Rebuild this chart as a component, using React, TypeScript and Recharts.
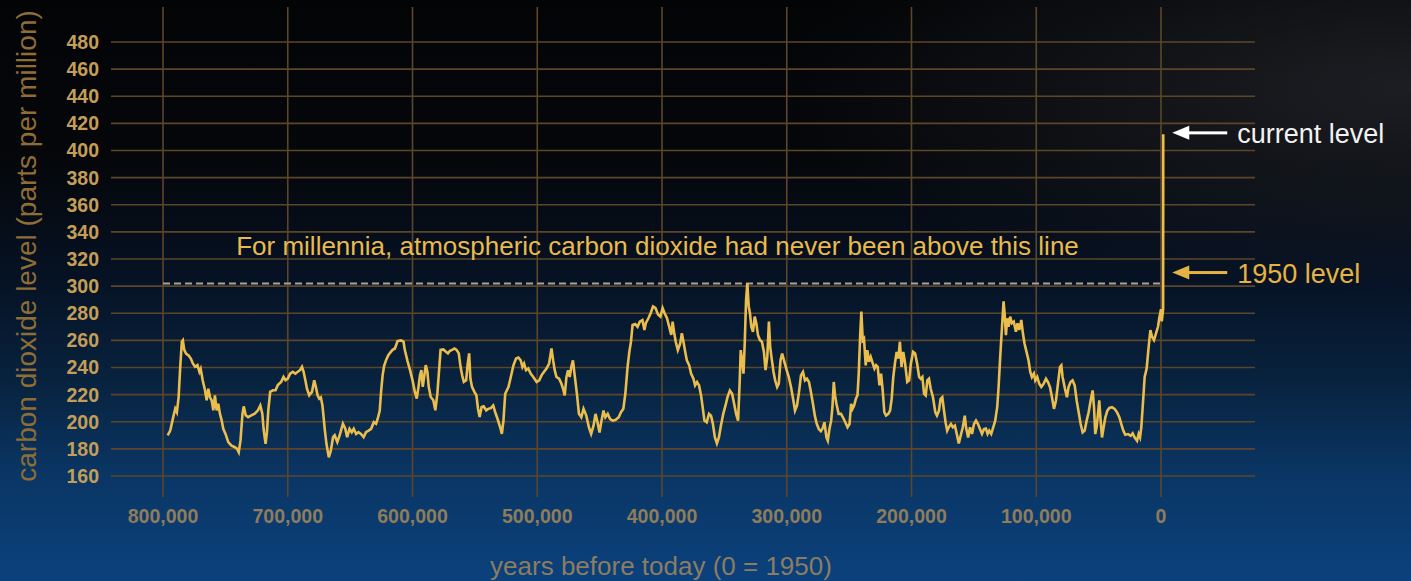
import React from 'react';
import {
  LineChart,
  Line,
  XAxis,
  YAxis,
  CartesianGrid,
  ReferenceLine,
  ReferenceDot,
  Label,
} from 'recharts';

const FONT = '"Liberation Sans", Arial, Helvetica, sans-serif';

const X_TICKS = [800000, 700000, 600000, 500000, 400000, 300000, 200000, 100000, 0];
const Y_TICKS = [160, 180, 200, 220, 240, 260, 280, 300, 320, 340, 360, 380, 400, 420, 440, 460, 480];
const X_DOMAIN: [number, number] = [-75350, 841700];
const Y_DOMAIN: [number, number] = [144.5, 505.8];

const PREINDUSTRIAL_MAX = 302;
const LEVEL_1950 = 310;
const LEVEL_CURRENT = 413;
const MODERN_YEAR = -1800;
const NOTE_YEAR = 403600;
const NOTE_PPM = 322.8;

const TITLE_NOTE = 'For millennia, atmospheric carbon dioxide had never been above this line';
const X_LABEL = 'years before today (0 = 1950)';
const Y_LABEL = 'carbon dioxide level (parts per million)';

// [years before 1950, ppm]
const record800to670: [number, number][] = [
  [796300, 190], [794200, 193.5], [791500, 204.7], [790200, 209.6], [788900, 207], [787500, 218],
  [786200, 240.5], [784900, 259], [784100, 260], [783000, 253], [781400, 250], [779600, 249],
  [777700, 246.6], [776100, 243], [774300, 240.5], [772400, 241.7], [770800, 236.8], [769800, 239],
  [768200, 230.6], [766300, 223], [765000, 215.8], [763700, 224.4], [762300, 218], [761000, 215.8],
  [759700, 208.4], [758400, 219.5], [757000, 208.4], [755700, 213.3], [754400, 206], [753000, 201],
  [751700, 194.8], [749900, 191], [747700, 185], [745100, 182.4], [742400, 181.2], [740600, 180],
  [739300, 177.5], [737900, 186], [736300, 206], [735300, 211.3], [733700, 204.7], [731800, 203.4],
  [729200, 204.7], [726500, 206], [723900, 208.4], [722000, 212], [720400, 206], [719400, 194.8],
  [717800, 183.7], [716700, 192.3], [715600, 208.4], [714100, 222], [711900, 223.2], [709800, 223.2],
  [708000, 227], [705300, 229.4], [703400, 233], [701800, 230.6], [700000, 231.8], [698100, 235.5],
  [696000, 236.8], [693900, 235.5], [692000, 236.8], [690200, 238], [688600, 240.5], [687300, 236.8],
  [685900, 230.6], [684600, 224.4], [682800, 219.5], [680600, 222], [678800, 230.6], [677500, 225.7],
  [676100, 219.5], [674800, 217], [673500, 218], [672200, 212],
];

const record670to540: [number, number][] = [
  [670300, 194], [669000, 183.7], [667100, 173.8], [665500, 178.7], [663700, 188.6], [662400, 190],
  [660300, 185], [658400, 190], [655800, 198.5], [653900, 194.8], [652400, 188.6], [650500, 194.8],
  [648700, 192.3], [647100, 194.8], [645200, 191], [643400, 192.3], [641300, 191], [639200, 188.6],
  [637300, 192.3], [635200, 193.5], [633200, 194.8], [631000, 199.7], [629200, 198.5], [627900, 202.2],
  [626300, 208], [625200, 222], [624000, 234], [622800, 241], [621200, 245.4], [619400, 249],
  [617800, 251], [616000, 253], [614100, 254], [612000, 259.5], [609300, 260], [607200, 259],
  [606200, 253], [604000, 244.7], [602000, 238], [600000, 230.6], [598100, 222], [596600, 217],
  [595200, 225.7], [594000, 234.3], [592900, 238], [591800, 225.7], [590700, 233], [589400, 241.7],
  [588100, 236.8], [587000, 225.7], [585400, 218.2], [583300, 215.8], [581700, 208.4], [580100, 220.7],
  [578500, 240.5], [577500, 253], [575300, 253.3], [573200, 251.6], [571600, 250.4], [570000, 252.3],
  [568200, 253], [566400, 254], [564700, 253], [562900, 250.4], [561500, 240.5], [560200, 234.3],
  [558900, 229.4], [557000, 230.6], [555700, 243], [554600, 250.4], [553600, 231.8], [552300, 225.7],
  [550400, 222], [548800, 219.5], [547500, 209.6], [546200, 203.4], [544600, 210.8], [543000, 211.3],
  [540900, 208.4], [539000, 209.6],
];

const record537to407: [number, number][] = [
  [537300, 210], [535300, 212], [533700, 207], [531800, 202], [529700, 195.9], [528400, 191],
  [527100, 200.8], [525700, 220.6], [523100, 225.5], [521200, 233], [519100, 241.6], [517000, 246.6],
  [515100, 247.3], [513300, 245.3], [511900, 240.4], [510600, 242.9], [509000, 238], [507200, 239.2],
  [505300, 235.5], [503200, 233], [500500, 229.3], [498400, 230.5], [496600, 234.2], [494700, 236.7],
  [492600, 239.2], [490500, 242.9], [488600, 254], [487300, 245.4], [486000, 238], [484600, 233],
  [482500, 231.7], [480600, 228], [479300, 224.3], [478000, 219.4], [476600, 233], [475300, 238],
  [474000, 233], [472700, 240.4], [471400, 245.3], [470000, 234.2], [468200, 220.6], [466600, 205.8],
  [464700, 203.3], [462900, 209.5], [460700, 204.5], [458600, 195.9], [456800, 191], [454900, 197.1],
  [453300, 205.8], [451700, 199.6], [450100, 192.1], [448500, 200.8], [446900, 208.2], [445400, 203.3],
  [443500, 205.8], [441600, 202], [439500, 200.8], [437400, 201.3], [434700, 203.3], [432900, 207],
  [431000, 209.5], [429400, 220.6], [427600, 240.4], [426200, 251.5], [424900, 259], [423600, 271.3],
  [421500, 272], [419600, 270], [417800, 273.8], [415700, 275], [414100, 267.6], [413000, 272.6],
  [410900, 276.3], [409100, 280], [407200, 285],
];

const record405to273: [number, number][] = [
  [405300, 284], [403200, 279], [401300, 277.5], [399500, 283.7], [397900, 280], [396000, 276.3],
  [394200, 270], [392600, 264], [391500, 273.8], [390200, 265.2], [389000, 259], [387300, 252.8],
  [385400, 257.7], [384100, 265.2], [382800, 259], [381400, 251.5], [380100, 245.3], [378200, 241.6],
  [376700, 235.5], [374800, 231.7], [373500, 226.8], [371900, 229.3], [370300, 226.8], [368700, 219.4],
  [367400, 210.7], [366000, 200.8], [364200, 199.6], [362300, 205.8], [360700, 204.5], [359200, 198.3],
  [357600, 188.4], [356000, 184], [354400, 188.4], [352800, 197], [350900, 205.8], [349100, 212],
  [347500, 218.1], [345600, 223], [343800, 220.6], [342200, 213.2], [340600, 205.8], [339000, 200.8],
  [337700, 230.5], [336900, 252.8], [335800, 245.3], [334700, 235.5], [333700, 257.7], [332600, 290],
  [331600, 302], [330500, 285], [329500, 280], [328400, 270], [327100, 266.3], [325700, 277.5],
  [324400, 272.6], [323100, 264], [321500, 260.2], [319900, 259], [318300, 251.5], [317000, 238],
  [315600, 247.8], [314300, 273.8], [313300, 255.2], [311900, 245.3], [310600, 236.7], [309300, 230.5],
  [307700, 225.6], [306400, 228], [305000, 245.3], [303700, 250.3], [301900, 244.1], [300000, 237.9],
  [298400, 233], [296600, 225.6], [294700, 215.7], [293400, 208.2], [291800, 211.9], [290200, 221.8],
  [288600, 234.2], [287000, 236.7], [285400, 230.5], [283800, 231.7], [282200, 229.3], [280600, 221.8],
  [279000, 213.2], [277500, 204.5], [275900, 198.3], [274300, 194.6], [272700, 193],
];

const record271to142: [number, number][] = [
  [271300, 195], [269800, 199.6], [268200, 188.4], [267100, 186], [265800, 194.6], [264400, 200.8],
  [263400, 210.7], [262300, 229.3], [261300, 219.4], [260200, 213.2], [258400, 205.8], [256500, 205.8],
  [255000, 203.3], [253100, 199.6], [251300, 195.9], [249700, 198.3], [248400, 213.2], [247300, 209.5],
  [246000, 212], [244600, 216.9], [243300, 219.4], [242300, 235.5], [241200, 262.7], [240200, 281.2],
  [239100, 260.2], [238100, 261.4], [236700, 241.6], [235400, 252.8], [234100, 244.1], [232700, 247.8],
  [231000, 242.9], [229700, 239.2], [228400, 241.6], [227100, 240.4], [225700, 226.8], [224400, 235.5],
  [223100, 223.2], [221800, 207], [220400, 204.5], [218600, 205.8], [217200, 208.2], [215900, 216.9],
  [214600, 233], [213300, 242.9], [211900, 251.5], [210600, 246.6], [209300, 259], [208000, 240.4],
  [206600, 251.5], [205300, 244.1], [203400, 229.3], [201900, 230.5], [200500, 242.9], [198700, 251.5],
  [197100, 250.3], [195500, 242.9], [193900, 233], [192600, 231.7], [191300, 233], [189900, 220.6],
  [188600, 219.4], [187300, 230.5], [186000, 231.7], [184600, 224.3], [182800, 218.1], [180900, 207],
  [179600, 204.5], [178000, 208.2], [176700, 216.9], [175300, 218.1], [174300, 210.7], [172700, 199.6],
  [171400, 193.4], [170100, 195.9], [168400, 198.3], [166800, 195.9], [165200, 197.1], [163700, 191],
  [162100, 183.9], [160500, 190], [158900, 195.9], [157300, 204.5], [156300, 195.9], [154600, 188.4],
  [153100, 195.9], [151500, 191], [149900, 198.3], [148300, 200.8], [146700, 198.3], [145100, 194.6],
  [143500, 191], [141900, 194.6],
];

const record140to0: [number, number][] = [
  [140400, 195], [139000, 191], [137700, 193.4], [136100, 191], [134500, 195.9], [132900, 200.8],
  [131300, 210.7], [130200, 225.5], [128900, 247.8], [127600, 267.6], [126200, 288.7], [125400, 280],
  [124300, 263.9], [123300, 276.3], [122200, 270], [120900, 277.5], [119500, 272.6], [118000, 273.8],
  [116300, 266.4], [115000, 272.6], [113600, 267.6], [112000, 275], [110700, 265.2], [109400, 257.7],
  [107800, 251.5], [106200, 245.3], [104800, 236.7], [103500, 233], [101900, 235.5], [100800, 230.5],
  [99200, 233], [97600, 228], [96000, 225.6], [94100, 228], [92200, 231.7], [90600, 229.3],
  [89000, 225.6], [87400, 218.1], [85800, 209.5], [84200, 215.7], [82600, 228], [81000, 240.4],
  [79900, 241.6], [78900, 233], [77800, 228], [76700, 223.1], [75400, 218.1], [74100, 225.6],
  [72500, 229.3], [70900, 230.5], [69200, 226.8], [67600, 215.7], [66000, 207], [64400, 198.3],
  [62800, 192.1], [61200, 193.4], [59600, 200.8], [58000, 207], [56400, 215.7], [54800, 223.1],
  [53700, 210.7], [52700, 190.9], [51600, 195.9], [50500, 205.8], [49500, 215.7], [48400, 200.8],
  [47300, 188.4], [46000, 195.9], [44600, 203.3], [43000, 208.2], [41400, 210.2], [39300, 210.7],
  [37200, 209.5], [35300, 207], [33400, 203.3], [31800, 198.3], [30200, 193.4], [28600, 190.4],
  [26400, 190.9], [24300, 189.6], [22700, 191.4], [21100, 188.4], [19200, 186], [17900, 190.9],
  [16800, 188.4], [15800, 195.9], [14700, 210.7], [13100, 233], [11500, 239.2], [9900, 255.2],
  [8500, 267.6], [7200, 262.7], [5600, 260.2], [4000, 265.2], [2400, 270], [1400, 276.3],
  [600, 280], [0, 283],
];

const modernRecord: [number, number][] = [
  [-600, 274], [-1700, 283], [MODERN_YEAR, 412],
];

const chartData = [
  ...record800to670,
  ...record670to540,
  ...record537to407,
  ...record405to273,
  ...record271to142,
  ...record140to0,
  ...modernRecord,
].map(([year, ppm]) => ({ year, ppm }));

const fmtYear = (v: number) => v.toLocaleString('en-US');

const applyScale = (axis: any, v: number): number => {
  const s = axis && axis.scale;
  if (typeof s === 'function') return s(v);
  if (s && typeof s.map === 'function') return s.map(v);
  return NaN;
};

const horizontalGen = (props: any) =>
  Y_TICKS.map((t) => applyScale(props.yAxis, t)).filter((v) => Number.isFinite(v));
const verticalGen = (props: any) =>
  X_TICKS.map((t) => applyScale(props.xAxis, t)).filter((v) => Number.isFinite(v));

const LevelArrow = (props: any) => {
  const { cx, cy, color, text, textColor, gap } = props;
  if (cx == null || cy == null) return null;
  const tip = cx + 9;
  return (
    <g>
      <polygon points={`${tip},${cy} ${tip + 17},${cy - 7} ${tip + 17},${cy + 7}`} fill={color} />
      <rect x={tip + 15} y={cy - 1.5} width={gap - 15} height={3} fill={color} />
      <text
        x={tip + gap + 10}
        y={cy + 1}
        dominantBaseline="central"
        fill={textColor}
        fontSize={27}
        fontFamily={FONT}
      >
        {text}
      </text>
    </g>
  );
};

const NoteText = (props: any) => {
  const { cx, cy } = props;
  if (cx == null || cy == null) return null;
  return (
    <text x={cx} y={cy} textAnchor="middle" fill="#e9ba4c" fontSize={26} fontFamily={FONT}>
      {TITLE_NOTE}
    </text>
  );
};

export default function App() {
  return (
    <div
      style={{
        position: 'absolute',
        left: 0,
        top: 0,
        width: 1411,
        height: 581,
        overflow: 'hidden',
        background:
          'radial-gradient(ellipse 45% 35% at 100% 15%, rgba(48,50,56,0.55), rgba(0,0,0,0) 100%), linear-gradient(to bottom, #030406 0%, #05070b 28%, #061224 48%, #08233f 66%, #0a3665 82%, #0b417c 100%)',
      }}
    >
      <LineChart
        width={1411}
        height={581}
        data={chartData}
        margin={{ top: 7, right: 156, left: 51, bottom: 44 }}
      >
        <CartesianGrid
          stroke="#5c462a"
          strokeWidth={1.6}
          horizontalCoordinatesGenerator={horizontalGen}
          verticalCoordinatesGenerator={verticalGen}
        />
        <XAxis
          dataKey="year"
          type="number"
          domain={X_DOMAIN}
          allowDataOverflow
          reversed
          ticks={X_TICKS}
          interval={0}
          tickFormatter={fmtYear}
          axisLine={false}
          tickLine={false}
          tickSize={0}
          tickMargin={12}
          height={40}
          tick={{ fill: '#8f7c5a', fontSize: 19.5, fontWeight: 700, fontFamily: FONT }}
        >
          <Label
            content={(p: any) => {
              const vb = p.viewBox || {};
              return (
                <text
                  x={vb.x + vb.width / 2 - 22}
                  y={575}
                  textAnchor="middle"
                  fill="#8c7d62"
                  fontSize={26}
                  fontFamily={FONT}
                >
                  {X_LABEL}
                </text>
              );
            }}
          />
        </XAxis>
        <YAxis
          type="number"
          domain={Y_DOMAIN}
          allowDataOverflow
          ticks={Y_TICKS}
          interval={0}
          axisLine={false}
          tickLine={false}
          tickSize={0}
          tickMargin={12}
          width={60}
          tick={{ fill: '#c49e58', fontSize: 19.5, fontWeight: 700, fontFamily: FONT }}
        >
          <Label
            content={(p: any) => {
              const vb = p.viewBox || {};
              const cx = vb.x - 15;
              const cy = vb.y + vb.height / 2 - 6;
              return (
                <text
                  transform={`translate(${cx}, ${cy}) rotate(-90)`}
                  x={0}
                  y={0}
                  textAnchor="middle"
                  fill="#8f6d36"
                  fontSize={28}
                  fontFamily={FONT}
                >
                  {Y_LABEL}
                </text>
              );
            }}
          />
        </YAxis>
        <ReferenceLine
          segment={[
            { x: 800000, y: PREINDUSTRIAL_MAX },
            { x: 0, y: PREINDUSTRIAL_MAX },
          ]}
          stroke="#a8a397"
          strokeWidth={2}
          strokeDasharray="7 4"
        />
        <Line
          dataKey="ppm"
          type="linear"
          stroke="#ebbd4d"
          strokeWidth={2.6}
          dot={false}
          isAnimationActive={false}
        />
        <ReferenceDot x={NOTE_YEAR} y={NOTE_PPM} shape={(p: any) => <NoteText {...p} />} />
        <ReferenceDot
          x={MODERN_YEAR}
          y={LEVEL_CURRENT}
          shape={(p: any) => (
            <LevelArrow {...p} color="#ffffff" textColor="#f2f2f2" text="current level" gap={55} />
          )}
        />
        <ReferenceDot
          x={MODERN_YEAR}
          y={LEVEL_1950}
          shape={(p: any) => (
            <LevelArrow {...p} color="#e6b342" textColor="#e6b342" text="1950 level" gap={55} />
          )}
        />
      </LineChart>
    </div>
  );
}
